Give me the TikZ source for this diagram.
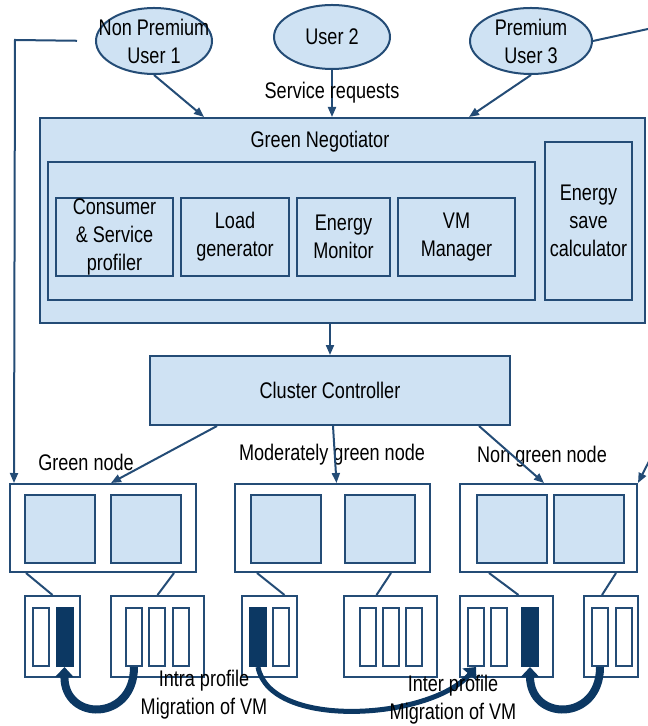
\documentclass[tikz,border=0pt]{standalone}
\usepackage{fontspec}
\setmainfont{Liberation Sans}[FakeStretch=0.8]
\usetikzlibrary{shapes.geometric,arrows.meta,calc}
\definecolor{lineblue}{RGB}{36,76,118}
\definecolor{fillblue}{RGB}{207,226,243}
\definecolor{vmdark}{RGB}{12,56,99}

\tikzset{
  user/.style={ellipse,draw=lineblue,fill=fillblue,line width=1pt,inner sep=-10pt,align=center},
  box/.style={rectangle,draw=lineblue,fill=fillblue,line width=1pt,inner sep=0pt,align=center},
  host/.style={rectangle,draw=lineblue,fill=white,line width=1pt,inner sep=0pt},
  slot/.style={rectangle,draw=lineblue,fill=white,line width=1pt,inner sep=0pt,minimum width=8pt,minimum height=29pt},
  busy/.style={slot,fill=vmdark,draw=vmdark},
  link/.style={draw=lineblue,line width=1pt},
  mig/.style={draw=vmdark,line width=4pt,-{Triangle[length=5pt,width=9pt]}},
}

\begin{document}
\begin{tikzpicture}[x=0.5pt,y=-0.5pt,>={Triangle[length=5pt,width=4pt]},font=\fontsize{11.3}{14}\selectfont]
\useasboundingbox (0,0) rectangle (647,726);

% users
\node[user,minimum width=58pt,minimum height=33pt] (u1) at (154,41) {Non Premium\\User 1};
\node[user,minimum width=58pt,minimum height=32pt] (u2) at (332,37) {User 2};
\node[user,minimum width=61pt,minimum height=33pt] (u3) at (531,41) {Premium\\User 3};

% green negotiator
\node[box,minimum width=302.5pt,minimum height=102.5pt] (gn) at (342.5,220.5) {};
\node (gnt) at (320,142) {Green Negotiator};
\node[box,minimum width=243.5pt,minimum height=69pt] (pan) at (291.5,231) {};
\node[box,minimum width=58.5pt,minimum height=39pt,inner ysep=-4pt] (csp) at (114.5,237) {Consumer\\\& Service\\profiler};
\node[box,minimum width=54pt,minimum height=39pt] (lg) at (235,237) {Load\\generator};
\node[box,minimum width=46.5pt,minimum height=39pt] (em) at (343.5,237) {Energy\\Monitor};
\node[box,minimum width=58.5pt,minimum height=39pt] (vmm) at (456.5,237) {VM\\Manager};
\node[box,minimum width=43.5pt,minimum height=79pt] (esc) at (588.5,221) {Energy\\save\\calculator};

\node[box,minimum width=180pt,minimum height=34.5pt] (cc) at (330,390.5) {Cluster Controller};

% hosts
\node[host,minimum width=93pt,minimum height=44pt] (g) at (103,528) {};
\node[host,minimum width=97.5pt,minimum height=44pt] (m) at (332.5,528) {};
\node[host,minimum width=88.5pt,minimum height=44pt] (n) at (548.5,528) {};
\foreach \nm/\x in {g1/60,g2/146,m1/286,m2/379.5,n1/512,n2/588.5}
  \node[box,minimum width=35pt,minimum height=34pt] (\nm) at (\x,529) {};

\node (gl) at (86,462) {Green node};
\node (ml) at (332,455) {Moderately green node};
\node (nl) at (542,457) {Non green node};

% vm boxes
\foreach \nm/\x/\w in {va/52.5/27.5,vb/157.5/46.5,vc/269.5/27.5,vd/390.5/46.5,ve/506.5/46.5,vf/611/27}
  \node[host,minimum width=\w pt,minimum height=40.5pt] (\nm) at (\x,636.5) {};
\foreach \nm/\x in {a1/41,b1/134,b2/157,b3/181,c2/281,d1/367.5,d2/391,d3/414,e1/476,e2/499,f1/600,f2/623.5}
  \node[slot] (\nm) at (\x,637) {};
\foreach \nm/\x in {a2/64.5,c1/258,e3/530}
  \node[busy] (\nm) at (\x,637) {};

\draw[link] ($(g.south west)+(17,0)$) -- (va.north);
\draw[link] ($(g.south east)+(-23,0)$) -- (vb.north);
\draw[link] ($(m.south west)+(23,0)$) -- ($(vc.north)+(15,0)$);
\draw[link] ($(m.south east)+(-40,0)$) -- ($(vd.north)+(-14,0)$);
\draw[link] ($(n.south west)+(30,0)$) -- ($(ve.north)+(12,0)$);
\draw[link] ($(n.south east)+(-22,0)$) -- ($(vf.north)+(-9,0)$);

% requests
\draw[link,->] (u1.south) -- ($(gn.north west)+(165,0)$);
\draw[link,->] (u2.south) -- (u2.south |- gn.north);
\draw[link,->] (u3.south) -- ($(gn.north west)+(430,0)$);
\node (sr) at (332,93) {Service requests};
\draw[link,->] (cc.north |- gn.south) -- (cc.north);
\draw[link,->] ($(cc.south west)+(68,0)$) -- ($(g.north west)+(102,0)$);
\draw[link,->] ($(cc.south)+(3,0)$) -- ($(m.north)+(4,0)$);
\draw[link,->] ($(cc.south east)+(-32,0)$) -- ($(n.north west)+(85,0)$);

% back lines
\coordinate (lc) at (15,40);
\draw[link,->,shorten <=9pt] (u1.west) -- (lc) -- ($(g.north west)+(5,0)$);
\coordinate (rc1) at (680,22);
\coordinate (rc2) at (680,400);
\draw[link,->] (u3.east) -- (rc1) -- (rc2) -- (n.north east);

% migration
\draw[mig] (b1.south) .. controls (134,722) and (64,722) .. (a2.south);
\draw[mig,line width=2.5pt] (c1.south) .. controls (270,730) and (430,720) .. (e1.south);
\draw[mig] (f1.south) .. controls (600,722) and (530,722) .. (e3.south);

\node[align=center] (intra) at (204,695) {Intra profile\\Migration of VM};
\node[align=center] (inter) at (453,700) {Inter profile\\Migration of VM};
\node[anchor=west] (vml) at (641,606) {VM};
\end{tikzpicture}
\end{document}
